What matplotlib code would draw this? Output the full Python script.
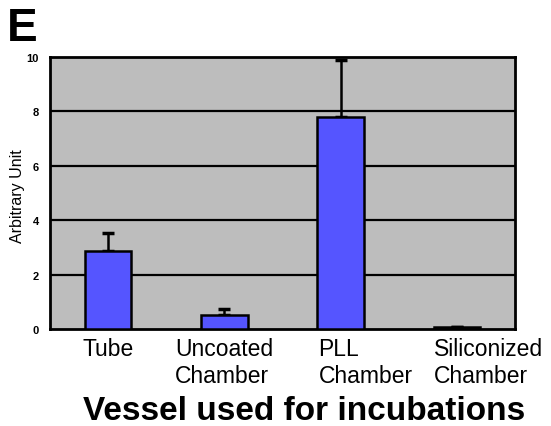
import matplotlib
matplotlib.use("Agg")
import matplotlib.pyplot as plt
import matplotlib.transforms as mtransforms
import numpy as np

plt.rcParams['font.family'] = ['Liberation Sans', 'DejaVu Sans']

categories = ["Tube", "Uncoated\nChamber", "PLL\nChamber", "Siliconized\nChamber"]
values = [2.87, 0.52, 7.78, 0.06]
errors = [0.66, 0.2, 2.12, 0.0]
yticks = [0, 2, 4, 6, 8, 10]

fig = plt.figure(figsize=(5.51, 4.27), dpi=100)
ax = fig.add_axes([50 / 551, 97 / 427, 465 / 551, 272 / 427])
ax.set_facecolor("#bdbdbd")

x = np.arange(len(categories))
for yv in yticks[1:-1]:
    ax.axhline(yv, color="black", lw=1.6, zorder=1)

ax.bar(x, values, width=0.4, color="#5555ff", edgecolor="black", lw=1.8, zorder=3)
ax.errorbar(x, values, yerr=[np.zeros(len(errors)), errors], fmt="none",
            ecolor="black", elinewidth=1.8, capsize=4, capthick=2.5, zorder=2)

ax.set_xlim(-0.5, 3.5)
ax.set_ylim(0, 10)
ax.set_yticks(yticks)
ax.set_yticklabels([str(t) for t in yticks], fontsize=8, fontweight="bold")
ax.tick_params(axis="y", length=0, pad=8)
ax.set_xticks([])
for s in ax.spines.values():
    s.set_linewidth(2)

# category labels: placed like the original (some centred, some left-aligned)
trans = mtransforms.blended_transform_factory(ax.transData, ax.transAxes)
label_pos = [(0.0, "center"), (1.0, "center"), (1.81, "left"), (2.80, "left")]
for (lx, ha), lab in zip(label_pos, categories):
    ax.text(lx, -0.03, lab, transform=trans, ha=ha, va="top", fontsize=16.5,
            multialignment="left", linespacing=1.22)

fig.text(18 / 551, 1 - 196 / 427, "Arbitrary Unit", fontsize=11.5, rotation=90,
         ha="center", va="center")
fig.text(304 / 551, 1 - 412 / 427, "Vessel used for incubations", fontsize=24,
         fontweight="bold", ha="center", va="center")
fig.text(7 / 551, 1 - 41 / 427, "E", fontsize=33, fontweight="bold")

plt.savefig("out.png", dpi=100)
plt.close()
